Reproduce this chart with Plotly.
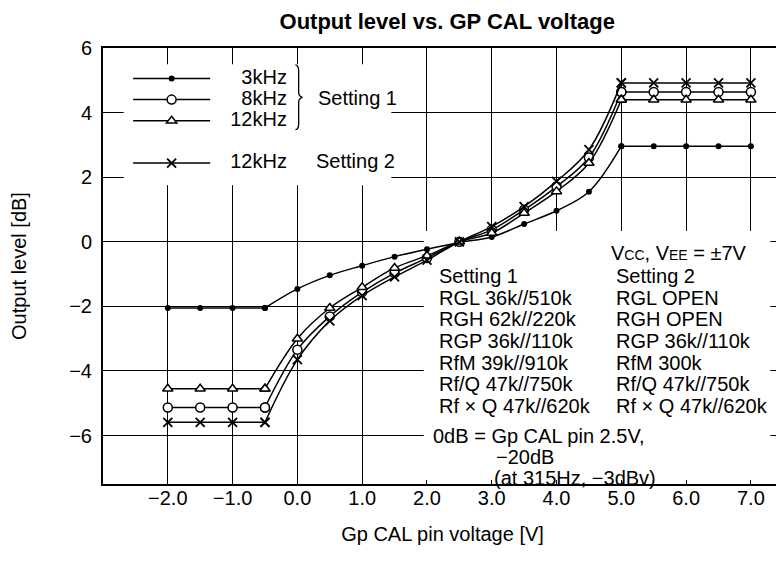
import plotly.graph_objects as go

# GP CAL pin voltage [V]
volts = [-2.0, -1.5, -1.0, -0.5, 0.0, 0.5, 1.0, 1.5, 2.0, 2.5,
         3.0, 3.5, 4.0, 4.5, 5.0, 5.5, 6.0, 6.5, 7.0]

# Output level [dB]
s1_3k = [-2.05, -2.05, -2.05, -2.05, -1.46, -1.04, -0.74, -0.46, -0.23, -0.02,
         0.15, 0.55, 0.96, 1.55, 2.96, 2.96, 2.96, 2.96, 2.96]
s1_8k = [-5.13, -5.13, -5.13, -5.13, -3.34, -2.31, -1.56, -0.97, -0.50, 0.00,
         0.37, 0.99, 1.71, 2.61, 4.64, 4.64, 4.64, 4.64, 4.64]
s1_12k = [-4.55, -4.55, -4.55, -4.55, -3.00, -2.05, -1.41, -0.81, -0.43, 0.00,
          0.27, 0.89, 1.56, 2.44, 4.40, 4.40, 4.40, 4.40, 4.40]
s2_12k = [-5.59, -5.59, -5.59, -5.59, -3.65, -2.45, -1.67, -1.09, -0.57, 0.00,
          0.47, 1.09, 1.87, 2.85, 4.92, 4.92, 4.92, 4.92, 4.92]

x_ticks = [-2, -1, 0, 1, 2, 3, 4, 5, 6, 7]
y_ticks = [-6, -4, -2, 0, 2, 4, 6]

col1_lines = ["Setting 1", "RGL 36k//510k", "RGH 62k//220k", "RGP 36k//110k",
              "RfM 39k//910k", "Rf/Q 47k//750k", "Rf × Q 47k//620k"]
col2_lines = ["Setting 2", "RGL OPEN", "RGH OPEN", "RGP 36k//110k",
              "RfM 300k", "Rf/Q 47k//750k", "Rf × Q 47k//620k"]

FONT = "Liberation Sans"
BIG = 20

# Kurven: (Daten, Legendentext, Gruppe, Marker)
series = [
    (s1_3k, "\u2007\u2007\u20093kHz", "s1",
     dict(symbol="circle", size=6, color="black")),
    (s1_8k, "\u2007\u2007\u20098kHz", "s1",
     dict(symbol="circle", size=9, color="white", line=dict(color="black", width=1.5))),
    (s1_12k, "\u2007\u200912kHz", "s1",
     dict(symbol="triangle-up", size=9, color="white", line=dict(color="black", width=1.5))),
    (s2_12k, "\u2007\u200912kHz", "s2",
     dict(symbol="x-thin", size=9, color="black", line=dict(color="black", width=1.8))),
]

fig = go.Figure()

# Plateau links / Kennlinie / Plateau rechts getrennt, damit die Knicke scharf bleiben
for y, name, grp, marker in series:
    parts = [(slice(0, 4), "linear", False),
             (slice(3, 15), "spline", True),
             (slice(14, None), "linear", False)]
    for sl, shape, show in parts:
        fig.add_trace(go.Scatter(
            x=volts[sl], y=y[sl],
            mode="lines+markers",
            line=dict(color="black", width=1.5, shape=shape),
            marker=marker,
            name=f'<span style="font-size:{BIG}px">{name}</span>',
            legendgroup=grp,
            showlegend=show,
        ))

# weiße Felder hinter Legende und Textblock (verdecken das Gitter)
fig.add_shape(type="rect", x0=-2.68, x1=1.45, y0=1.75, y1=5.5,
              fillcolor="white", line_width=0, layer="between")
fig.add_shape(type="rect", x0=1.95, x1=7.3, y0=-7.38, y1=0.33,
              fillcolor="white", line_width=0, layer="between")

# geschweifte Klammer für Setting 1
fig.add_shape(type="path", layer="above", line=dict(color="black", width=1.3),
              path="M -0.03,5.48 Q 0.02,5.46 0.02,5.3 L 0.02,4.62 Q 0.02,4.5 0.08,4.47 "
                   "Q 0.02,4.44 0.02,4.32 L 0.02,3.65 Q 0.02,3.49 -0.03,3.47")

ann = dict(showarrow=False, xanchor="left", yanchor="middle",
           font=dict(family=FONT, size=BIG, color="black"))
fig.add_annotation(x=0.28, y=4.45, text="Setting 1", **ann)
fig.add_annotation(x=0.25, y=2.49, text="Setting 2", **ann)

small = '<span style="font-size:14px">'
fig.add_annotation(x=4.81, y=-0.35,
                   text=f"V{small}CC</span>, V{small}EE</span> = ±7V", **ann)

for i, (a, b) in enumerate(zip(col1_lines, col2_lines)):
    fig.add_annotation(x=2.15, y=-1.07 - i * 0.668, text=a, **ann)
    fig.add_annotation(x=4.89, y=-1.07 - i * 0.668, text=b, **ann)

fig.add_annotation(x=2.07, y=-6.0, text="0dB = Gp CAL pin 2.5V,", **ann)
fig.add_annotation(x=3.04, y=-6.65, text="\u221220dB", **ann)
fig.add_annotation(x=3.0, y=-7.3, text="(at 315Hz, \u22123dBv)", **ann)

axis_common = dict(
    showline=True, linecolor="black", linewidth=2, mirror=True,
    showgrid=True, gridcolor="black", gridwidth=1.2,
    zeroline=False, ticks="",
    tickfont=dict(family=FONT, size=BIG, color="black"),
)

fig.update_xaxes(
    range=[-3.0, 7.48], tickvals=x_ticks, tickformat=".1f", ticklabelstandoff=-5,
    title=dict(text="Gp CAL pin voltage [V]", standoff=19,
               font=dict(family=FONT, size=BIG, color="black")),
    **axis_common,
)
fig.update_yaxes(
    range=[-7.5, 6.0], tickvals=y_ticks, ticklabelstandoff=5,
    title=dict(text="Output level [dB]", standoff=40,
               font=dict(family=FONT, size=BIG, color="black")),
    **axis_common,
)

# Seite hat 8px Rand -> Figur etwas kleiner, damit sie ins Fenster passt
fig.update_layout(
    width=776, height=564,
    margin=dict(l=95, r=0, t=40, b=88),
    paper_bgcolor="white", plot_bgcolor="white",
    font=dict(family=FONT, color="black"),
    title=dict(text="<b>Output level vs. GP CAL voltage</b>",
               x=0.566, xanchor="center", y=0.9757, yanchor="middle",
               font=dict(family=FONT, size=22, color="black")),
    legend=dict(x=0.037, y=0.966, xanchor="left", yanchor="top",
                bgcolor="rgba(0,0,0,0)", itemwidth=77,
                font=dict(family=FONT, size=14, color="black"),
                traceorder="grouped", tracegroupgap=21,
                itemclick=False, itemdoubleclick=False),
)

fig.write_html("out.html")
